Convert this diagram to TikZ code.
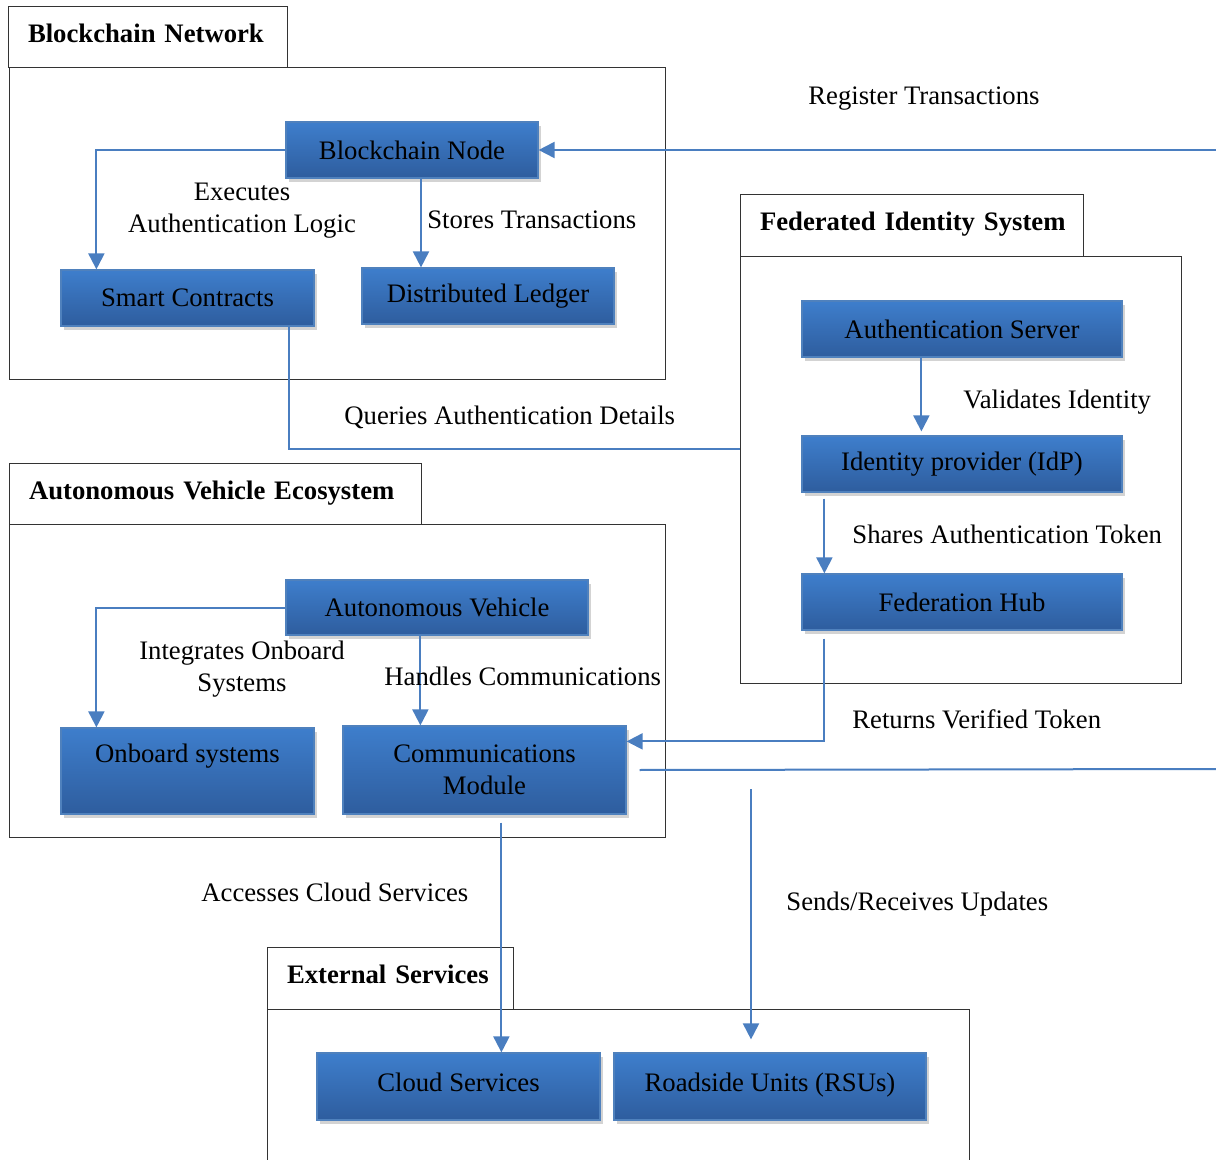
\documentclass[tikz,border=0pt]{standalone}
\usepackage{fontspec}
\setmainfont{Liberation Serif}
\usetikzlibrary{arrows.meta}
\usetikzlibrary{shadows}
\definecolor{boxtop}{RGB}{62,126,204}
\definecolor{boxbot}{RGB}{46,93,158}
\definecolor{boxedge}{RGB}{79,129,189}
\definecolor{linkblue}{RGB}{74,126,192}

\begin{document}
\begin{tikzpicture}[
    x=0.5pt, y=-0.5pt,
    >={Triangle[length=8pt,width=8pt]},
    font=\fontsize{13.35}{16}\selectfont,
    unit/.style={draw=boxedge, line width=0.6pt, top color=boxtop, bottom color=boxbot,
      drop shadow={shadow xshift=1.5pt, shadow yshift=-2pt, opacity=0.35},
      align=center, inner sep=0pt},
    title/.style={draw=black!80, line width=0.5pt, fill=white,
      font=\fontsize{13.35}{16}\selectfont\bfseries, align=left,
      inner xsep=10pt, inner ysep=0pt, text height=9pt, text depth=4pt},
    group/.style={draw=black!80, line width=0.5pt},
    link/.style={draw=linkblue, line width=1pt},
    note/.style={inner sep=0pt, align=center},
    ]

    \useasboundingbox (0,0) rectangle (1216,1160);

    % blockchain network
    \node[title, text width=119.5pt, minimum height=30.5pt] (bntitle) at (147.5,37.5) {\mbox{Blockchain Network}};
    \draw[group] (9,68) rectangle (665,380);
    \node[unit, minimum width=126pt, minimum height=28pt] (bn) at (412,150) {Blockchain Node};
    \node[unit, minimum width=126.5pt, minimum height=28pt] (sc) at (187.5,298) {Smart Contracts};
    \node[unit, minimum width=126pt, minimum height=28pt] (dl) at (488,296) {Distributed Ledger};

    % federated identity system
    \node[title, text width=151.5pt, minimum height=31pt] (fistitle) at (911.5,226) {\mbox{Federated Identity System}};
    \draw[group] (740,257) rectangle (1181,683);
    \node[unit, minimum width=160pt, minimum height=28pt] (as) at (962,329) {Authentication Server};
    \node[unit, minimum width=160pt, minimum height=28pt] (idp) at (962,464) {Identity provider (IdP)};
    \node[unit, minimum width=160pt, minimum height=28pt] (fh) at (962,602) {Federation Hub};

    % autonomous vehicle ecosystem
    \node[title, text width=186pt, minimum height=30.5pt] (avetitle) at (215,494.5) {\mbox{Autonomous Vehicle Ecosystem}};
    \draw[group] (9,525) rectangle (665,837);
    \node[unit, minimum width=151pt, minimum height=27.5pt] (av) at (437,607.5) {Autonomous Vehicle};
    \node[unit, minimum width=126.5pt, minimum height=43pt] (os) at (187.5,771) {Onboard systems\\[-3pt]\strut};
    \node[unit, minimum width=141.5pt, minimum height=44pt] (cm) at (484.5,770) {Communications\\Module};

    % external services
    \node[title, text width=103pt, minimum height=31pt] (estitle) at (390,978) {\mbox{External Services}};
    \draw[group] (267,1165) -- (267,1009) -- (969,1009) -- (969,1165);
    \node[unit, minimum width=141.5pt, minimum height=33.5pt, text height=9.5pt, text depth=5pt] (cloud) at (458.5,1086.5) {Cloud Services};
    \node[unit, minimum width=156pt, minimum height=33.5pt, text height=9.5pt, text depth=5pt] (rsu) at (770,1086.5) {Roadside Units (RSUs)};

    % free ends
    \coordinate (regin) at (1216,150);
    \coordinate (fisin) at (740,449);
    \coordinate (updout) at (1216,769);
    \coordinate (updtop) at (751,789);

    % connectors
    \draw[link, ->] (bn.west) -| ([xshift=18pt]sc.north west);
    \draw[link, ->] ([xshift=4.5pt]bn.south) -- ([xshift=4.5pt]bn.south |- dl.north);
    \draw[link, ->] (regin) -- (bn.east);
    \draw[link] ([xshift=-13pt]sc.south east) |- (fisin);
    \draw[link, ->] ([xshift=60pt]as.south west) -- ([xshift=60pt,yshift=2pt]idp.north west);
    \draw[link, ->] ([xshift=11.5pt,yshift=-3pt]idp.south west) -- ([xshift=11.5pt]fh.north west);
    \draw[link, ->] ([xshift=11.5pt,yshift=-4pt]fh.south west) |- ([yshift=-8pt]cm.north east);
    \draw[link, ->] (av.west) -| ([xshift=18pt]os.north west);
    \draw[link, ->] ([xshift=67.5pt]av.south west) -- ([xshift=67.5pt]av.south west |- cm.north);
    \draw[link, ->] ([xshift=79.5pt,yshift=-4pt]cm.south west) -- ([xshift=79.5pt]cm.south west |- cloud.north);
    \draw[link] ([xshift=6.5pt]cm.east) -- (updout);
    \draw[link, ->] (updtop) -- ([yshift=6.5pt]rsu.north -| updtop);

    % labels
    \node[note] (execlbl) at (242,211) {Executes\\Authentication Logic};
    \node[note, anchor=west] (storelbl) at (427,220) {Stores Transactions};
    \node[note, anchor=west] (reglbl) at (808,99) {Register Transactions};
    \node[note, anchor=west] (querylbl) at (344,417) {Queries Authentication Details};
    \node[note, anchor=west] (validlbl) at (963,402) {Validates Identity};
    \node[note, anchor=west] (sharelbl) at (852,534) {Shares Authentication Token};
    \node[note, anchor=west] (retlbl) at (852,719) {Returns Verified Token};
    \node[note] (integlbl) at (242,669) {Integrates Onboard\\Systems};
    \node[note, anchor=west] (handlbl) at (384,676) {Handles Communications};
    \node[note, anchor=west] (cloudlbl) at (201,892) {Accesses Cloud Services};
    \node[note, anchor=west] (updlbl) at (786,904) {Sends/Receives Updates};

  \end{tikzpicture}
\end{document}
